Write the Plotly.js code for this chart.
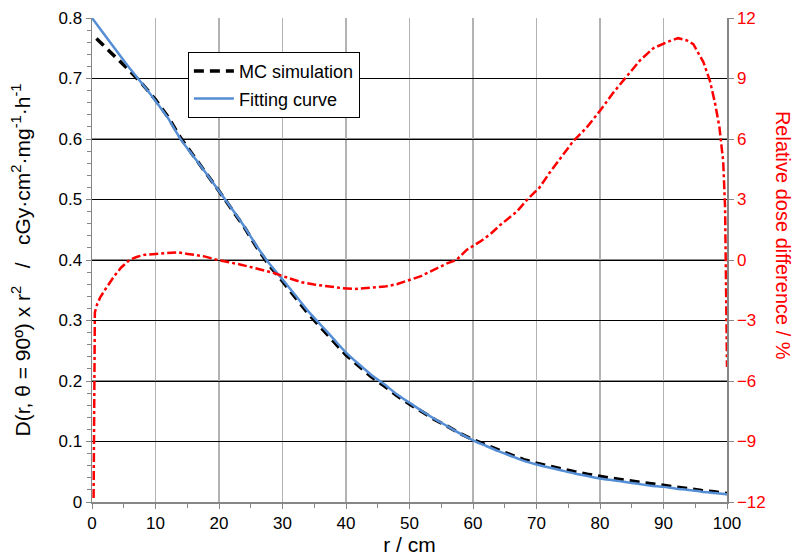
<!DOCTYPE html>
<html><head><meta charset="utf-8">
<script src="https://cdn.plot.ly/plotly-3.0.1.min.js"></script>
<style>html,body{margin:0;padding:0;background:#fff}#chart{width:798px;height:557px}</style>
</head><body><div id="chart"></div>
<script>
// Fitting curve
var fitR = [0,2,4,6,8,10,12,14,16,18,20,22,24,26,28,30,32,34,36,38,40,42,44,46,48,50,52,54,56,58,60,62,64,66,68,70,72,74,76,78,80,82,84,86,88,90,92,94,96,98,100];
var fitD = [0.800,0.772,0.744,0.716,0.690,0.663,0.634,0.599,0.571,0.543,0.514,0.485,0.455,0.422,0.393,0.368,0.342,0.316,0.293,0.270,0.247,0.228,0.210,0.195,0.178,0.164,0.150,0.137,0.125,0.113,0.102,0.093,0.084,0.076,0.068,0.062,0.057,0.052,0.047,0.043,0.039,0.036,0.033,0.030,0.027,0.025,0.022,0.020,0.017,0.015,0.013];
// MC simulation
var mcR = [0.7,2,3,4,5,6,8,10,12,14,16,18,20,22,24,26,28,30,32,34,36,38,40,42,44,46,48,50,52,54,56,58,60,62,64,66,68,70,72,74,76,78,80,82,84,86,88,90,92,94,96,98,100];
var mcD = [0.766,0.753,0.742,0.733,0.723,0.712,0.690,0.665,0.636,0.601,0.572,0.544,0.514,0.484,0.454,0.420,0.390,0.365,0.339,0.312,0.289,0.266,0.243,0.225,0.207,0.192,0.176,0.162,0.149,0.136,0.125,0.113,0.103,0.094,0.086,0.078,0.070,0.064,0.059,0.054,0.050,0.046,0.042,0.039,0.036,0.033,0.030,0.028,0.025,0.022,0.019,0.017,0.014];
// Relative dose difference (%)
var diffR = [0.25,0.35,0.45,0.8,1.3,2.0,2.5,3.5,4.6,5.9,7,8.3,10,12,13.5,15.1,17.7,19.8,23,25.6,28.8,31,33,35,37.2,39.5,41.4,44,46.1,48,50.1,51.8,53.2,55.9,57.4,59,61.1,62.8,64.3,66.9,68.5,70.5,72,73.7,75.8,77.9,80,82.1,84.2,86.3,88.4,90.5,92.3,93.6,94.7,96.3,97.3,98.1,98.8,99.4,99.7,99.9,100];
var diffV = [-11.8,-7.0,-2.6,-2.2,-1.85,-1.5,-1.27,-0.8,-0.37,0.0,0.15,0.26,0.3,0.36,0.38,0.3,0.18,0.0,-0.2,-0.4,-0.66,-0.9,-1.1,-1.22,-1.32,-1.4,-1.44,-1.39,-1.32,-1.2,-1.0,-0.8,-0.58,-0.17,0.0,0.5,0.91,1.3,1.74,2.4,2.98,3.6,4.3,5.0,5.9,6.57,7.4,8.3,9.1,9.9,10.5,10.8,11.0,10.9,10.7,9.8,8.9,7.8,6.6,4.9,2.6,-1.5,-5.3];

var FONT = 'Liberation Sans, Arial, sans-serif';
var traces = [
  {x: mcR, y: mcD, type: 'scatter', mode: 'lines', name: 'MC simulation', legendgroup: 'a',
   line: {color: '#000000', width: 3.5, dash: '10px,6px'}},
  {x: fitR, y: fitD, type: 'scatter', mode: 'lines', name: 'Fitting curve', legendgroup: 'b',
   line: {color: '#558ED5', width: 2.5, shape: 'spline', smoothing: 0.6}},
  {x: diffR, y: diffV, type: 'scatter', mode: 'lines', yaxis: 'y2', showlegend: false, name: 'diff',
   line: {color: '#FF0000', width: 2.5, dash: 'dashdot'}}
];
var layout = {
  width: 798, height: 557,
  margin: {l: 92, r: 71, t: 18, b: 55},
  paper_bgcolor: '#fff', plot_bgcolor: '#fff',
  font: {family: FONT, size: 17, color: '#000'},
  showlegend: true,
  legend: {x: 0.151, y: 0.93, xanchor: 'left', yanchor: 'top', bgcolor: '#fff', bordercolor: '#000', borderwidth: 1,
           font: {family: FONT, size: 18, color: '#000'}, tracegroupgap: 1, traceorder: 'grouped', itemwidth: 40},
  xaxis: {range: [0, 100], dtick: 10, tick0: 0, showgrid: true, gridcolor: '#b3b3b3', gridwidth: 1.5,
          zeroline: false, showline: true, linecolor: '#868686', linewidth: 1.5, automargin: false,
          ticks: 'outside', ticklen: 5, tickcolor: '#868686',
          minor: {dtick: 5, ticks: 'outside', ticklen: 4, tickcolor: '#868686', showgrid: false},
          tickfont: {family: FONT, size: 17, color: '#000'},
          title: {text: 'r / cm', font: {family: FONT, size: 21, color: '#000'}, standoff: 4}},
  yaxis: {range: [0, 0.8], dtick: 0.1, tick0: 0, showgrid: true, gridcolor: '#000', gridwidth: 1,
          zeroline: false, showline: true, linecolor: '#868686', linewidth: 1.5, automargin: false,
          ticks: 'outside', ticklen: 5, tickcolor: '#868686',
          minor: {dtick: 0.02, ticks: 'outside', ticklen: 4, tickcolor: '#868686', showgrid: false},
          tickfont: {family: FONT, size: 17, color: '#000'},
          title: {text: 'D(r, θ = 90º) x r<sup>2</sup>   /   cGy·cm<sup>2</sup>·mg<sup>-1</sup>·h<sup>-1</sup>',
                  font: {family: FONT, size: 21, color: '#000'}, standoff: 22}},
  yaxis2: {range: [-12, 12], dtick: 3, tick0: -12, overlaying: 'y', side: 'right', automargin: false,
           showgrid: false, zeroline: false, showline: true, linecolor: '#868686', linewidth: 1.5,
           ticks: 'outside', ticklen: 5, tickcolor: '#868686',
           tickfont: {family: FONT, size: 17, color: '#FF0000'}},
  shapes: [
    {type: 'line', xref: 'paper', yref: 'y2', x0: 0, x1: 1, y0: -6, y1: -6, line: {color: '#8c8c8c', width: 2}, layer: 'between'},
    {type: 'line', xref: 'paper', yref: 'y2', x0: 0, x1: 1, y0: 0, y1: 0, line: {color: '#8c8c8c', width: 2}, layer: 'between'},
    {type: 'line', xref: 'paper', yref: 'y2', x0: 0, x1: 1, y0: 6, y1: 6, line: {color: '#8c8c8c', width: 2}, layer: 'between'}
  ],
  annotations: [
    {text: 'Relative dose difference / %', xref: 'paper', yref: 'paper', x: 1.088, y: 0.55,
     xanchor: 'center', yanchor: 'middle', textangle: 90, showarrow: false,
     font: {family: FONT, size: 20, color: '#FF0000'}}
  ]
};
Plotly.newPlot('chart', traces, layout, {displayModeBar: false, staticPlot: true});
</script>
</body></html>
